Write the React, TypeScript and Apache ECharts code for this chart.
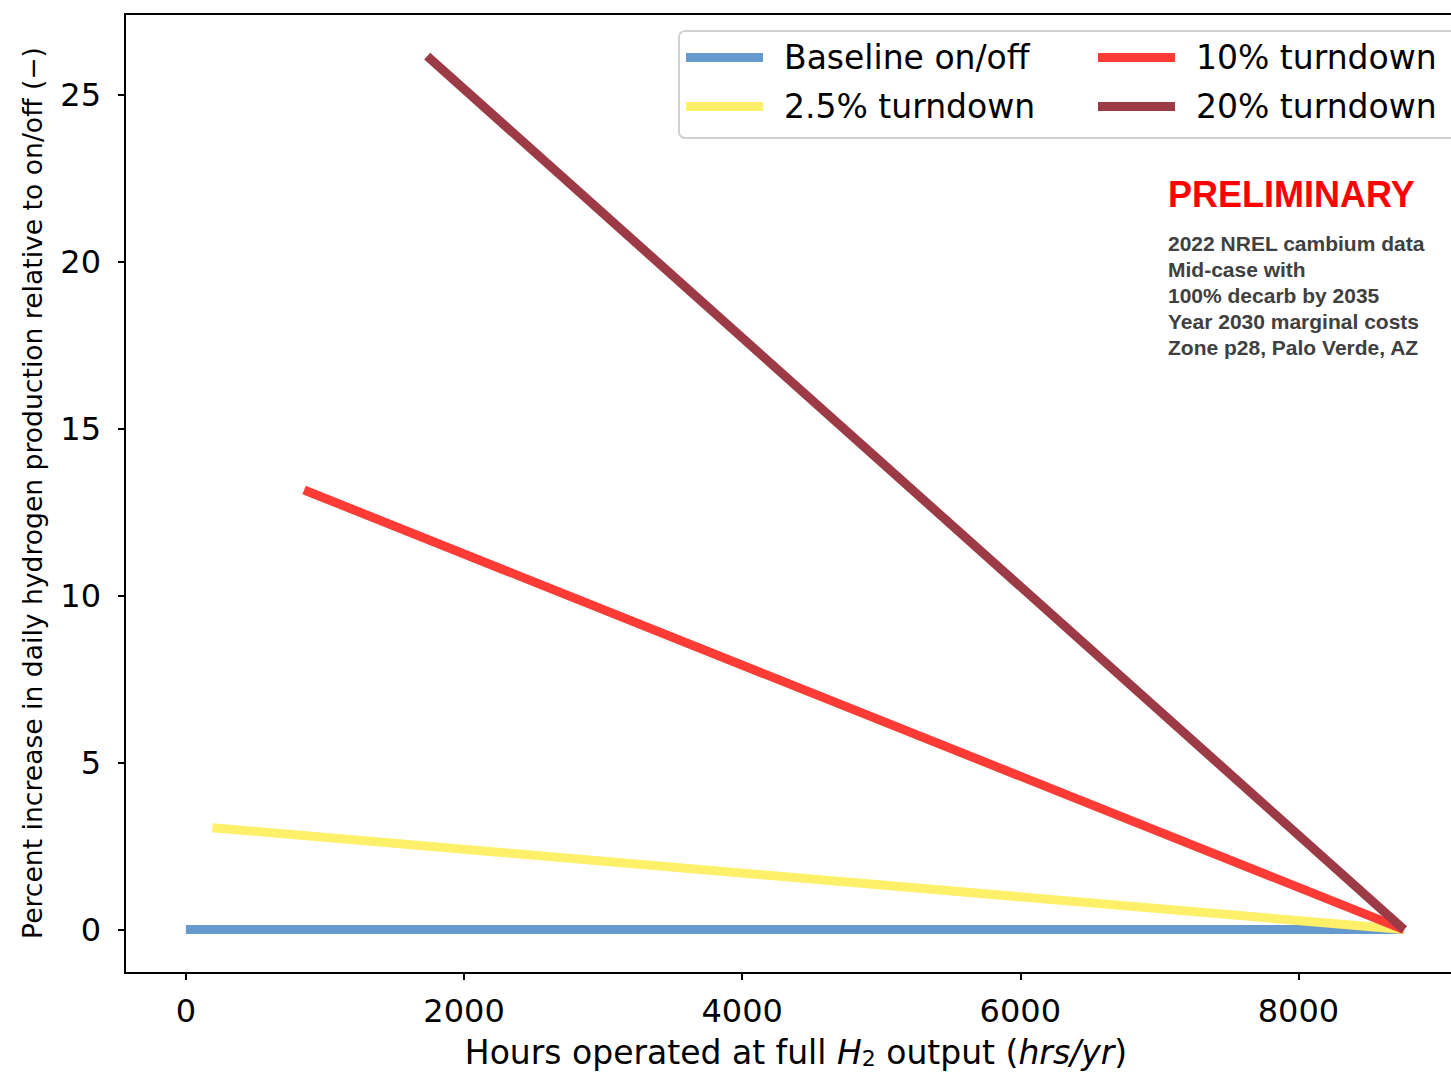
import React, { useEffect, useRef } from "react";
import * as echarts from "echarts";

const seriesNames = ["Baseline on/off", "2.5% turndown", "10% turndown", "20% turndown"];
const seriesColors = ["#6699cc", "#fff06a", "#ff3b36", "#9c3a46"];
// [hours, percent] endpoints for each line
const baselineData = [[0, 0], [8760, 0]];
const turndown25Data = [[190, 3.05], [8760, 0]];
const turndown10Data = [[850, 13.17], [8760, 0]];
const turndown20Data = [[1735, 26.17], [8760, 0]];
const xTicks = [0, 2000, 4000, 6000, 8000];
const yTicks = [0, 5, 10, 15, 20, 25];
const noteLines = [
  "2022 NREL cambium data",
  "Mid-case with",
  "100% decarb by 2035",
  "Year 2030 marginal costs",
  "Zone p28, Palo Verde, AZ",
];

export default function App() {
  const ref = useRef<HTMLDivElement>(null);
  useEffect(() => {
    if (!ref.current) return;
    const chart = echarts.init(ref.current, undefined, { renderer: "svg" });
    const allData = [baselineData, turndown25Data, turndown10Data, turndown20Data];
    const font = "DejaVu Sans";
    const legendText = { fontSize: 33, fontFamily: font, color: "#000", lineHeight: 32, padding: [0, 0, 0, 16] };
    chart.setOption({
      animation: false,
      backgroundColor: "#fff",
      grid: {
        left: 125,
        top: 14,
        width: 1340,
        height: 959,
        show: true,
        borderColor: "#000",
        borderWidth: 2,
        backgroundColor: "transparent",
      },
      xAxis: {
        type: "value",
        min: -438,
        max: 9198,
        splitLine: { show: false },
        axisLine: { show: true, onZero: false, lineStyle: { color: "#000", width: 2 } },
        axisTick: { show: true, length: 7, lineStyle: { color: "#000", width: 2 }, customValues: xTicks },
        axisLabel: {
          customValues: xTicks,
          formatter: (v: number) => String(v),
          fontSize: 32,
          fontFamily: font,
          color: "#000",
          margin: 22,
        },
      },
      yAxis: {
        type: "value",
        min: -1.3,
        max: 27.43,
        splitLine: { show: false },
        axisLine: { show: true, onZero: false, lineStyle: { color: "#000", width: 2 } },
        axisTick: { show: true, length: 7, lineStyle: { color: "#000", width: 2 }, customValues: yTicks },
        axisLabel: { customValues: yTicks, fontSize: 32, fontFamily: font, color: "#000", margin: 24 },
      },
      legend: [
        {
          orient: "vertical",
          left: 686,
          top: 41,
          padding: 0,
          itemWidth: 77,
          itemHeight: 9,
          itemGap: 16,
          icon: "rect",
          data: [seriesNames[0], seriesNames[1]],
          textStyle: legendText,
          selectedMode: false,
        },
        {
          orient: "vertical",
          left: 1098,
          top: 41,
          padding: 0,
          itemWidth: 77,
          itemHeight: 9,
          itemGap: 16,
          icon: "rect",
          data: [seriesNames[2], seriesNames[3]],
          textStyle: legendText,
          selectedMode: false,
        },
      ],
      graphic: [
        {
          type: "rect",
          z: 3,
          shape: { x: 679, y: 31, width: 800, height: 107, r: 6 },
          style: { fill: "rgba(255,255,255,0.8)", stroke: "#d0d0d0", lineWidth: 2 },
        },
        {
          type: "text",
          z: 5,
          x: 1168,
          y: 176,
          style: {
            text: "PRELIMINARY",
            fontSize: 36,
            fontWeight: "bold",
            fontFamily: "Liberation Sans",
            fill: "#ff0000",
          },
        },
        {
          type: "text",
          z: 5,
          x: 1168,
          y: 230,
          style: {
            text: noteLines.join("\n"),
            fontSize: 21,
            lineHeight: 26,
            fontWeight: "bold",
            fontFamily: "Liberation Sans",
            fill: "#404040",
          },
        },
        {
          type: "text",
          z: 5,
          x: 32,
          y: 493,
          rotation: Math.PI / 2,
          style: {
            text: "Percent increase in daily hydrogen production relative to on/off (\u2212)",
            fontSize: 26.6,
            fontFamily: "DejaVu Sans",
            fill: "#000",
            align: "center",
            verticalAlign: "middle",
          },
        },
        {
          type: "text",
          z: 5,
          x: 796,
          y: 1052,
          style: {
            text: "{n|Hours operated at full }{i|H}{s|2}{n| output (}{i|hrs/yr}{n|)}",
            align: "center",
            verticalAlign: "middle",
            fill: "#000",
            rich: {
              n: { fontSize: 33, fontFamily: font, fill: "#000" },
              i: { fontSize: 33, fontFamily: font, fontStyle: "italic", fill: "#000" },
              s: { fontSize: 22, fontFamily: font, fill: "#000", padding: [12, 0, 0, 0] },
            },
          },
        },
      ],
      series: allData.map((d, i) => ({
        type: "line",
        name: seriesNames[i],
        data: d,
        symbol: "none",
        color: seriesColors[i],
        lineStyle: { width: 9, color: seriesColors[i], cap: "butt" },
        z: 2 + i * 0.01,
      })),
    });
    return () => chart.dispose();
  }, []);
  return (
    <div style={{ position: "fixed", left: 0, top: 0, width: 1451, height: 1073, overflow: "hidden" }}>
      <div ref={ref} style={{ width: 1500, height: 1073 }} />
    </div>
  );
}
